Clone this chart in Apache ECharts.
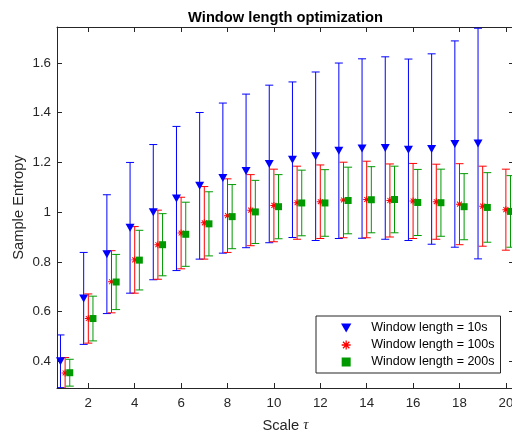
<!DOCTYPE html>
<html><head><meta charset="utf-8">
<script src="https://cdn.jsdelivr.net/npm/echarts@6/dist/echarts.min.js"></script>
<style>html,body{margin:0;padding:0;background:#fff;overflow:hidden}#c{width:512px;height:432px}</style>
</head><body><div id="c"></div>
<script>
// ---- data ----
const scales = [1,2,3,4,5,6,7,8,9,10,11,12,13,14,15,16,17,18,19,20];
const xTicks = [2,4,6,8,10,12,14,16,18,20];
const yTicks = [0.4,0.6,0.8,1,1.2,1.4,1.6];
const seriesNames = ['Window length = 10s','Window length = 100s','Window length = 200s'];
// window length = 10s (no value at scale 20)
const blueMean = [0.400,0.653,0.831,0.937,1.000,1.055,1.106,1.137,1.166,1.194,1.211,1.225,1.247,1.256,1.258,1.251,1.254,1.274,1.276];
const blueErr  = [0.106,0.185,0.239,0.263,0.272,0.290,0.295,0.302,0.309,0.317,0.313,0.339,0.353,0.361,0.367,0.365,0.383,0.415,0.464];
// window length = 100s
const redMean = [0.353,0.572,0.720,0.808,0.869,0.916,0.957,0.986,1.008,1.027,1.038,1.042,1.049,1.051,1.047,1.045,1.042,1.032,1.024,1.010];
const redErr  = [0.062,0.099,0.125,0.134,0.139,0.144,0.146,0.148,0.143,0.146,0.147,0.148,0.152,0.154,0.147,0.151,0.151,0.163,0.161,0.163];
// window length = 200s
const greenMean = [0.354,0.572,0.719,0.807,0.869,0.911,0.953,0.982,1.001,1.022,1.037,1.037,1.047,1.050,1.051,1.039,1.038,1.022,1.019,1.003];
const greenErr  = [0.054,0.090,0.111,0.120,0.125,0.129,0.129,0.129,0.127,0.129,0.132,0.134,0.134,0.133,0.134,0.133,0.135,0.133,0.140,0.144];

// ---- chart ----
const X_MIN = 0.65, X_MAX = 20.35, Y_MIN = 0.2925, Y_MAX = 1.745;
const OFF = 0.2;
const FONT = 'Liberation Sans, Arial, Helvetica, sans-serif';
const AX = '#262626';
const BLUE = '#0000ff', RED = '#ff0000', GREEN = '#009900';
const triPath = 'path://M0 0 L10 0 L5 8.7 Z';
const sqPath = 'path://M0 0 L10 0 L10 10 L0 10 Z';
const starPath = 'path://M8.6 0 L11.4 0 L11.4 20 L8.6 20 Z M0 8.6 L20 8.6 L20 11.4 L0 11.4 Z M1.9 3.9 L3.9 1.9 L18.1 16.1 L16.1 18.1 Z M16.1 1.9 L18.1 3.9 L3.9 18.1 L1.9 16.1 Z';

function errData(means, errs, off) {
  return means.map((m, i) => [scales[i] + off, m - errs[i], m + errs[i]]);
}
function markData(means, off) {
  return means.map((m, i) => [scales[i] + off, m]);
}
function errRender(color) {
  return function (params, api) {
    const x = api.value(0);
    const p1 = api.coord([x, api.value(1)]);
    const p2 = api.coord([x, api.value(2)]);
    const hw = 4;
    const style = { stroke: color, lineWidth: 1 };
    return { type: 'group', children: [
      { type: 'line', shape: { x1: p1[0], y1: p1[1], x2: p2[0], y2: p2[1] }, style },
      { type: 'line', shape: { x1: p1[0] - hw, y1: p1[1], x2: p1[0] + hw, y2: p1[1] }, style },
      { type: 'line', shape: { x1: p2[0] - hw, y1: p2[1], x2: p2[0] + hw, y2: p2[1] }, style }
    ]};
  };
}
function errSeries(means, errs, off, color) {
  return { type: 'custom', name: 'err', data: errData(means, errs, off), encode: { x: 0, y: [1, 2] },
    renderItem: errRender(color), clip: true, silent: true, z: 2 };
}
function markSeries(name, means, off, color, symbol, size) {
  return { type: 'scatter', name, data: markData(means, off), symbol, symbolSize: size,
    itemStyle: { color, opacity: 1 }, z: 3, silent: true };
}

const axisCommon = {
  type: 'value',
  axisLine: { show: true, onZero: false, lineStyle: { color: AX, width: 1 } },
  splitLine: { show: false }
};

const option = {
  animation: false,
  backgroundColor: '#fff',
  textStyle: { fontFamily: FONT },
  grid: { left: 57, top: 27, width: 457, height: 361, containLabel: false, outerBoundsMode: 'none' },
  xAxis: [
    Object.assign({}, axisCommon, {
      min: X_MIN, max: X_MAX, position: 'bottom',
      axisTick: { show: true, inside: true, length: 5, customValues: xTicks, lineStyle: { color: AX } },
      axisLabel: { customValues: xTicks, color: AX, fontSize: 13.3, margin: 9, fontFamily: FONT },
      name: '{a|Scale }{b|τ}', nameLocation: 'middle', nameGap: 30,
      nameTextStyle: { rich: {
        a: { fontSize: 14.7, color: AX, fontFamily: FONT },
        b: { fontSize: 14.7, color: AX, fontStyle: 'italic', fontFamily: 'Liberation Serif, serif' }
      } }
    }),
    Object.assign({}, axisCommon, {
      min: X_MIN, max: X_MAX, position: 'top',
      axisTick: { show: true, inside: true, length: 5, customValues: xTicks, lineStyle: { color: AX } },
      axisLabel: { show: false },
      name: 'Window length optimization', nameLocation: 'middle', nameGap: 2,
      nameTextStyle: { fontSize: 14.7, fontWeight: 'bold', color: '#000', fontFamily: FONT }
    })
  ],
  yAxis: [
    Object.assign({}, axisCommon, {
      min: Y_MIN, max: Y_MAX, position: 'left',
      axisTick: { show: true, inside: true, length: 5, customValues: yTicks, lineStyle: { color: AX } },
      axisLabel: { customValues: yTicks, color: AX, fontSize: 13.3, margin: 6, fontFamily: FONT },
      name: 'Sample Entropy', nameLocation: 'middle', nameGap: 31, nameMoveOverlap: false,
      nameTextStyle: { fontSize: 14.7, color: AX, fontFamily: FONT }
    }),
    Object.assign({}, axisCommon, {
      min: Y_MIN, max: Y_MAX, position: 'right',
      axisTick: { show: true, inside: true, length: 5, customValues: yTicks, lineStyle: { color: AX } },
      axisLabel: { show: false }
    })
  ],
  legend: {
    orient: 'vertical', left: 316, top: 316,
    itemWidth: 40, itemHeight: 9, itemGap: 3,
    padding: [5, 6, 4, 25],
    borderColor: AX, borderWidth: 1, backgroundColor: '#fff',
    textStyle: { fontSize: 12.5, color: '#000', fontFamily: FONT, lineHeight: 14 },
    data: seriesNames,
    selectedMode: false
  },
  series: [
    errSeries(blueMean, blueErr, -OFF, BLUE),
    markSeries(seriesNames[0], blueMean, -OFF, BLUE, triPath, [9, 8]),
    errSeries(redMean, redErr, 0, RED),
    markSeries(seriesNames[1], redMean, 0, RED, starPath, 7),
    errSeries(greenMean, greenErr, OFF, GREEN),
    markSeries(seriesNames[2], greenMean, OFF, GREEN, sqPath, 7)
  ]
};
const chart = echarts.init(document.getElementById('c'), null, { renderer: 'canvas' });
chart.setOption(option);
</script>
</body></html>
